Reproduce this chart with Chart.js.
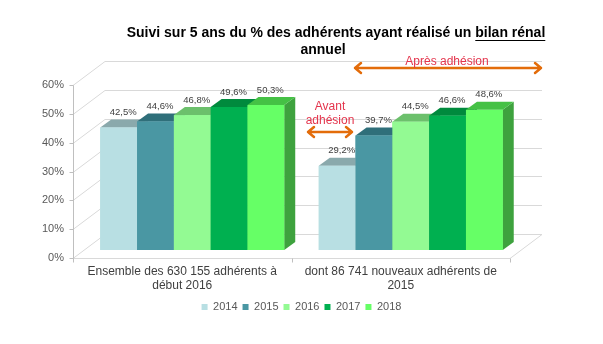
<!DOCTYPE html>
<html>
<head>
<meta charset="utf-8">
<script src="https://cdn.jsdelivr.net/npm/chart.js@4/dist/chart.umd.min.js"></script>
<style>
  body { margin: 0; background: #fff; }
</style>
</head>
<body>
<canvas id="bilanChart" width="603" height="344"></canvas>
<script>
const categories = [
    ['Ensemble des 630 155 adhérents à', 'début 2016'],
    ['dont 86 741 nouveaux adhérents de', '2015']
];
const years = ['2014', '2015', '2016', '2017', '2018'];
const v2014 = [42.5, 29.2];
const v2015 = [44.6, 39.7];
const v2016 = [46.8, 44.5];
const v2017 = [49.6, 46.6];
const v2018 = [50.3, 48.6];
const yTicks = [0, 10, 20, 30, 40, 50, 60];

const frontColors = ['#b8dfe3', '#4a97a3', '#93fa93', '#00b050', '#66ff66'];
const topColors = ['#8aa9ac', '#2f6f7a', '#6cc06c', '#008a3d', '#45c145'];
const sideColors = ['#8fb3b6', '#2f6f7a', '#5aa95a', '#00803a', '#3ea23e'];

const FONT = 'Arial, "Liberation Sans", sans-serif';
Chart.defaults.font.family = FONT;

// fake 3d: bar depth, and where the axis plane / back wall sit relative to the bars
const DEPTH = { x: 11, y: -8 };
const FRONT = { x: -10, y: 8 };
const BACK = { x: 22, y: -16 };

const fillPoly = (ctx, pts, color) => {
    ctx.beginPath();
    ctx.moveTo(pts[0][0], pts[0][1]);
    pts.slice(1).forEach(p => ctx.lineTo(p[0], p[1]));
    ctx.closePath();
    ctx.fillStyle = color;
    ctx.fill();
};

const walls3d = {
    id: 'walls3d',
    beforeDatasetsDraw(chart) {
        const { ctx, chartArea: a, scales: { y } } = chart;
        ctx.save();
        ctx.lineWidth = 1;
        ctx.strokeStyle = '#d9d9d9';
        yTicks.forEach(v => {
            const py = Math.round(y.getPixelForValue(v)) + 0.5;
            ctx.beginPath();
            ctx.moveTo(a.left + FRONT.x, py + FRONT.y);
            ctx.lineTo(a.left + BACK.x, py + BACK.y);
            ctx.lineTo(a.right + BACK.x, py + BACK.y);
            ctx.stroke();
        });

        // floor
        const y0 = Math.round(y.getPixelForValue(0)) + 0.5;
        ctx.beginPath();
        ctx.moveTo(a.left + FRONT.x, y0 + FRONT.y);
        ctx.lineTo(a.right + FRONT.x, y0 + FRONT.y);
        ctx.lineTo(a.right + BACK.x, y0 + BACK.y);
        ctx.stroke();

        // front axis line with tick marks
        ctx.strokeStyle = '#bfbfbf';
        const ax = Math.round(a.left + FRONT.x) + 0.5;
        const yTop = Math.round(y.getPixelForValue(yTicks[yTicks.length - 1])) + 0.5;
        ctx.beginPath();
        ctx.moveTo(ax, yTop + FRONT.y);
        ctx.lineTo(ax, y0 + FRONT.y);
        yTicks.forEach(v => {
            const py = Math.round(y.getPixelForValue(v)) + 0.5 + FRONT.y;
            ctx.moveTo(ax - 4, py);
            ctx.lineTo(ax, py);
        });
        const step = (a.right - a.left) / categories.length;
        for (let i = 0; i <= categories.length; i++) {
            const px = Math.round(a.left + FRONT.x + i * step) + 0.5;
            ctx.moveTo(px, y0 + FRONT.y);
            ctx.lineTo(px, y0 + FRONT.y + 4);
        }
        ctx.stroke();
        ctx.restore();
    },
    afterDatasetsDraw(chart) {
        const { ctx } = chart;
        ctx.save();
        const labelSpots = [];
        chart.data.labels.forEach((_, i) => {
            chart.data.datasets.forEach((ds, d) => {
                const bar = chart.getDatasetMeta(d).data[i];
                const { x: cx, y: top, base, width } = bar.getProps(['x', 'y', 'base', 'width'], true);
                const l = cx - width / 2;
                const r = cx + width / 2;
                fillPoly(ctx, [[r, top], [r + DEPTH.x, top + DEPTH.y], [r + DEPTH.x, base + DEPTH.y], [r, base]], sideColors[d]);
                fillPoly(ctx, [[l, top], [r, top], [r + DEPTH.x, top + DEPTH.y], [l + DEPTH.x, top + DEPTH.y]], topColors[d]);
                ctx.fillStyle = ds.backgroundColor;
                ctx.fillRect(l, top, width, base - top);
                labelSpots.push({ x: cx + DEPTH.x / 2 - 1, y: top + DEPTH.y - 7, v: ds.data[i] });
            });
        });
        ctx.font = '9.5px ' + FONT;
        ctx.fillStyle = '#404040';
        ctx.textAlign = 'center';
        ctx.textBaseline = 'middle';
        labelSpots.forEach(s => ctx.fillText(s.v.toFixed(1).replace('.', ',') + '%', s.x, s.y));
        ctx.restore();
    }
};

const drawArrow = (ctx, x1, x2, y) => {
    ctx.beginPath();
    ctx.moveTo(x1 + 1, y);
    ctx.lineTo(x2 - 1, y);
    ctx.moveTo(x1 + 7, y - 5);
    ctx.lineTo(x1 + 1, y);
    ctx.lineTo(x1 + 7, y + 5);
    ctx.moveTo(x2 - 7, y - 5);
    ctx.lineTo(x2 - 1, y);
    ctx.lineTo(x2 - 7, y + 5);
    ctx.stroke();
};

const titleAndNotes = {
    id: 'titleAndNotes',
    afterDraw(chart) {
        const { ctx } = chart;
        ctx.save();
        // title, with "bilan rénal" underlined
        ctx.font = 'bold 14px ' + FONT;
        ctx.fillStyle = '#000';
        ctx.textBaseline = 'middle';
        const head = 'Suivi sur 5 ans du % des adhérents ayant réalisé un ';
        const tail = 'bilan rénal';
        const w = ctx.measureText(head + tail).width;
        const x0 = 336 - w / 2;
        ctx.textAlign = 'left';
        ctx.fillText(head + tail, x0, 33);
        const ux = x0 + ctx.measureText(head).width;
        ctx.fillRect(ux, 40, x0 + w - ux, 1);
        ctx.textAlign = 'center';
        ctx.fillText('annuel', 323, 50);

        // before / after membership notes
        ctx.strokeStyle = '#e36c0a';
        ctx.lineWidth = 2.5;
        ctx.lineCap = 'round';
        ctx.lineJoin = 'round';
        drawArrow(ctx, 354, 542, 68);
        drawArrow(ctx, 307, 353, 132);
        ctx.font = '12px ' + FONT;
        ctx.fillStyle = '#e4344c';
        ctx.fillText('Après adhésion', 447, 62);
        ctx.fillText('Avant', 330, 107);
        ctx.fillText('adhésion', 330, 121);
        ctx.restore();
    }
};

const seriesValues = [v2014, v2015, v2016, v2017, v2018];

new Chart(document.getElementById('bilanChart'), {
    type: 'bar',
    data: {
        labels: categories,
        datasets: years.map((yr, d) => ({
            label: yr,
            data: seriesValues[d],
            backgroundColor: frontColors[d],
            borderWidth: 0,
            categoryPercentage: 0.842,
            barPercentage: 1
        }))
    },
    options: {
        responsive: false,
        animation: false,
        layout: {
            padding: { top: 77, right: 0, bottom: 21.5, left: 0 }
        },
        plugins: {
            title: { display: false },
            tooltip: { enabled: false },
            legend: {
                position: 'bottom',
                labels: {
                    boxWidth: 6,
                    boxHeight: 6,
                    padding: 5,
                    color: '#595959',
                    font: { size: 11 }
                }
            }
        },
        scales: {
            x: {
                grid: { display: false, drawTicks: false },
                border: { display: false },
                ticks: {
                    color: '#404040',
                    font: { size: 12, lineHeight: 14 / 12 },
                    padding: 15,
                    labelOffset: FRONT.x,
                    maxRotation: 0,
                    autoSkip: false
                },
                afterFit: scale => { scale.height = 46.5; }
            },
            y: {
                min: 0,
                max: 60,
                grid: { display: false, drawTicks: false },
                border: { display: false },
                ticks: {
                    stepSize: 10,
                    color: '#595959',
                    font: { size: 11 },
                    padding: 19,
                    labelOffset: FRONT.y,
                    callback: v => v + '%'
                },
                afterFit: scale => { scale.width = 83; }
            },
            // empty right-hand margin for the back wall and the arrows
            yRight: {
                position: 'right',
                min: 0,
                max: 60,
                grid: { display: false, drawTicks: false },
                border: { display: false },
                ticks: { display: false },
                afterFit: scale => { scale.width = 83; }
            }
        }
    },
    plugins: [walls3d, titleAndNotes]
});
</script>
</body>
</html>
